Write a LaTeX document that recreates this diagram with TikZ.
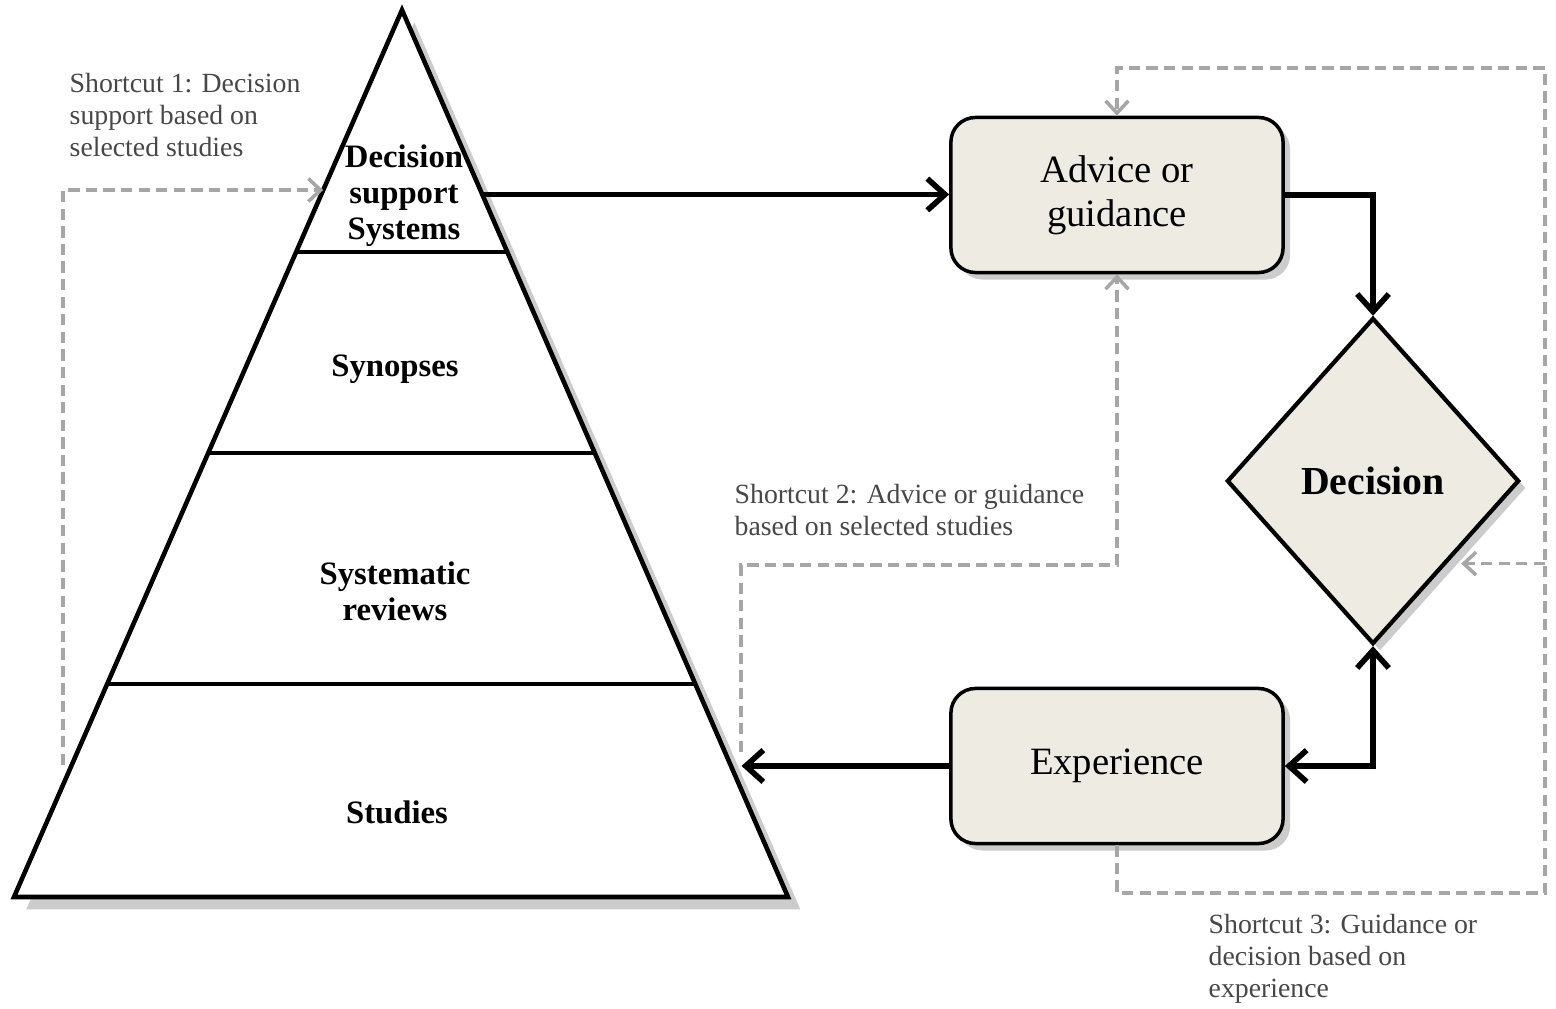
\documentclass[tikz,border=0pt]{standalone}
\usepackage{xcolor}
\usepackage{fontspec}
\setmainfont{Liberation Serif}
\usetikzlibrary{arrows.meta, shapes.geometric, shadows, calc}
\definecolor{boxfill}{HTML}{EDEBE2}
\definecolor{cutgray}{HTML}{A6A6A6}
\definecolor{notegray}{HTML}{474747}

\begin{document}
\begin{tikzpicture}[x=0.01cm, y=-0.01cm,
  box/.style={draw, line width=1pt, rounded corners=7pt, fill=boxfill,
    minimum width=3.32cm, minimum height=1.55cm, align=center,
    font=\fontsize{11}{12.5}\selectfont,
    drop shadow={shadow xshift=2pt, shadow yshift=-2pt, opacity=.4}},
  level/.style={align=center, font=\bfseries\fontsize{9.3}{10.2}\selectfont},
  note/.style={align=left, anchor=north west, inner sep=0pt, text=notegray,
    font=\fontsize{7.9}{9.1}\selectfont},
  main/.style={line width=1.6pt, -{Straight Barb[length=5pt,width=9pt]}},
  both/.style={line width=1.6pt, {Straight Barb[length=5pt,width=9pt]}-{Straight Barb[length=5pt,width=9pt]}},
  cut/.style={cutgray, line width=1pt, dash pattern=on 3.2pt off 1.8pt,
    -{Straight Barb[length=3.5pt,width=6.5pt]}}]
\useasboundingbox (0,0) rectangle (1556,1009);

% pyramid
\coordinate (top) at (402,10);
\coordinate (bl) at (14,897);
\coordinate (br) at (788,897);
\draw[line width=1.3pt, fill=white,
  drop shadow={shadow xshift=3.5pt, shadow yshift=-3.5pt, opacity=.4}]
  (top) -- (br) -- (bl) -- cycle;
\foreach \f in {0.2728,0.4994,0.7599}
  \draw[line width=1.3pt] ($(top)!\f!(bl)$) -- ($(top)!\f!(br)$);
\node[level] (dss) at (404,196) {Decision\\support\\Systems};
\node[level] (syn) at (395,369) {Synopses};
\node[level] (rev) at (395,591) {Systematic\\reviews};
\node[level] (stu) at (397,812) {Studies};
\coordinate (pr) at ($(top)!0.2080!(br)$);
\coordinate (pl) at ($(top)!0.2030!(bl)$);
\coordinate (studin) at ($(top)!0.8523!(br)$);

% right side
\node[box] (adv) at (1117,195) {Advice or\\guidance};
\node[box] (exp) at (1117,766) {Experience};
\node[diamond, draw, line width=1.2pt, fill=boxfill, inner sep=0pt,
  minimum width=2.92cm, minimum height=3.26cm,
  font=\bfseries\fontsize{11.3}{13}\selectfont,
  drop shadow={shadow xshift=2pt, shadow yshift=-2pt, opacity=.4}]
  (dec) at (1373,481) {Decision};
\coordinate (s3in) at ($(dec.east)!0.5!(dec.south)$);

\draw[main] (pr) -- (pr -| adv.west);
\draw[main] (adv.east) -| (dec.north);
\draw[both] (exp.east) -| (dec.south);
\draw[main, shorten >=3pt] (exp.west) -- (studin);

% shortcuts
\coordinate (s1) at (63,765);
\coordinate (s2) at (741,752);
\coordinate (s2m) at (741,565);
\coordinate (s3r) at (1545,893);
\coordinate (s3t) at (1545,68);
\draw[cut] (s1) |- (pl);
\draw[cut] (s2) -- (s2m) -| (adv.south);
\draw[cut] (exp.south) |- (s3r) -- (s3t) -| (adv.north);
\draw[cut, shorten >=4pt] (s3r |- s3in) -- (s3in);

\node[note] (n1) at (69,73) {Shortcut 1: Decision\\support based on\\selected studies};
\node[note] (n2) at (734,484) {Shortcut 2: Advice or guidance\\based on selected studies};
\node[note] (n3) at (1208,914) {Shortcut 3: Guidance or\\decision based on\\experience};
\end{tikzpicture}
\end{document}
